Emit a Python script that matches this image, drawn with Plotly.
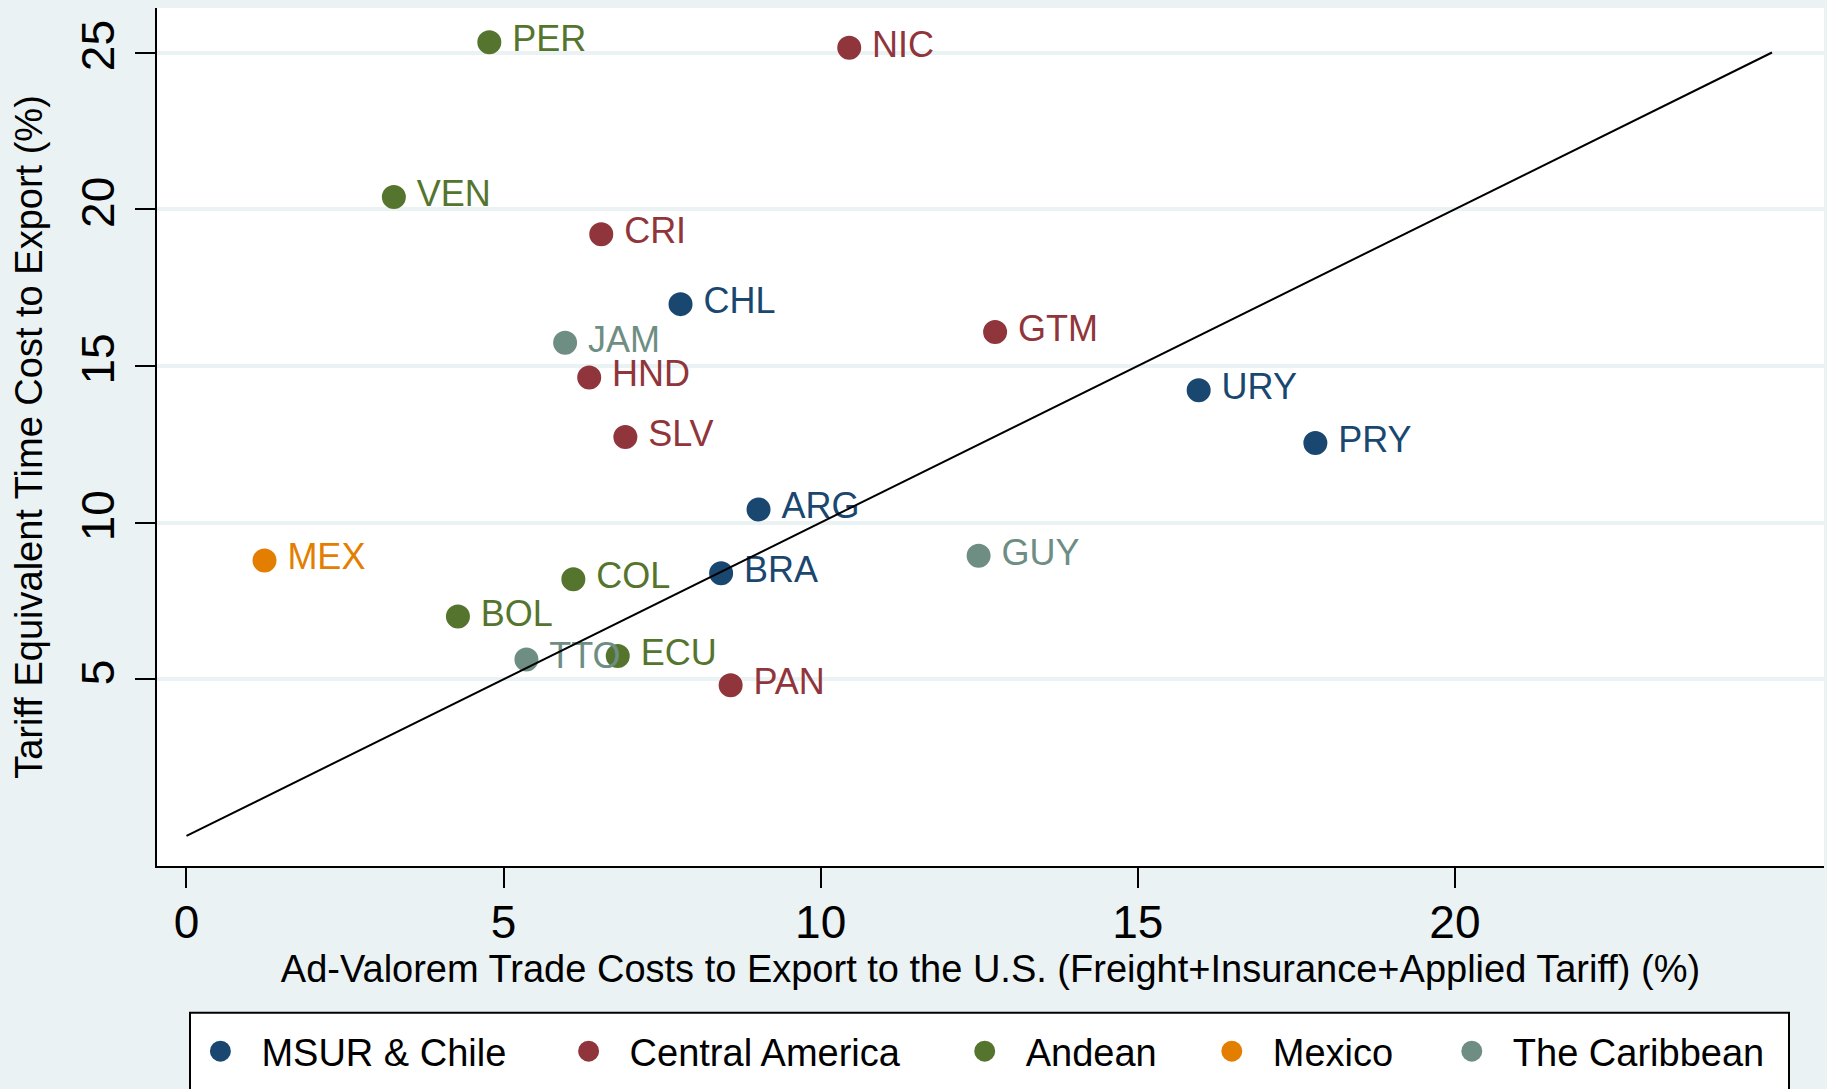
import plotly.graph_objects as go

# ---- data ----
groups = ["MSUR & Chile", "Central America", "Andean", "Mexico", "The Caribbean"]
colors = ["#1A476F", "#90353B", "#55752F", "#E37E00", "#6E8E84"]

msur_names = ["CHL", "URY", "PRY", "ARG", "BRA"]
msur_x = [7.79, 15.96, 17.80, 9.02, 8.43]
msur_y = [16.97, 14.22, 12.54, 10.42, 8.38]

cam_names = ["NIC", "CRI", "GTM", "HND", "SLV", "PAN"]
cam_x = [10.45, 6.54, 12.75, 6.35, 6.92, 8.58]
cam_y = [25.15, 19.20, 16.08, 14.63, 12.73, 4.81]

and_names = ["PER", "VEN", "COL", "BOL", "ECU"]
and_x = [4.775, 3.27, 6.10, 4.28, 6.80]
and_y = [25.33, 20.39, 8.19, 7.00, 5.74]

mex_names = ["MEX"]
mex_x = [1.23]
mex_y = [8.79]

car_names = ["JAM", "GUY", "TTO"]
car_x = [5.97, 12.49, 5.36]
car_y = [15.74, 8.94, 5.63]

line_x = [0, 25]
line_y = [0, 25]

x_ticks = [0, 5, 10, 15, 20]
y_ticks = [5, 10, 15, 20, 25]

x_title = "Ad-Valorem Trade Costs to Export to the U.S. (Freight+Insurance+Applied Tariff) (%)"
y_title = "Tariff Equivalent Time Cost to Export (%)"

series = [
    (msur_names, msur_x, msur_y),
    (cam_names, cam_x, cam_y),
    (and_names, and_x, and_y),
    (mex_names, mex_x, mex_y),
    (car_names, car_x, car_y),
]

FONT = "Liberation Sans, Arial, Helvetica, sans-serif"
BG = "#EAF2F3"

W, H = 1827, 1089
L, R, T, B = 157, 3, 8, 223
PW, PH = W - L - R, H - T - B

def px2paper_x(px):
    return (px - L) / PW

def px2paper_y(py):
    return (H - B - py) / PH

# legend entry anchor pixels (marker centres of the reference legend)
legend_marker_px = [221.4, 589.6, 985.7, 1232.8, 1472.8]
LEG_ITEMW = 72
LEG_CENTER = (LEG_ITEMW + 10) / 2 + 1
LEG_TOP = 1020

fig = go.Figure()
legend_ids = ["legend", "legend2", "legend3", "legend4", "legend5"]
for name, col, (labs, xs, ys), lid in zip(groups, colors, series, legend_ids):
    fig.add_trace(go.Scatter(
        x=xs, y=ys, text=labs, name=name, legend=lid,
        mode="markers+text", textposition="middle right",
        texttemplate="\u00a0%{text}",
        marker=dict(size=19, color=col, line=dict(width=5, color=col)),
        textfont=dict(family=FONT, size=36, color=col),
        cliponaxis=False,
    ))

fig.add_trace(go.Scatter(
    x=line_x, y=line_y, mode="lines", showlegend=False,
    line=dict(color="black", width=2), hoverinfo="skip",
))

# legend frame
fig.add_shape(type="rect", xref="paper", yref="paper",
              x0=px2paper_x(190), x1=px2paper_x(1789),
              y0=px2paper_y(1012.7), y1=px2paper_y(1110),
              fillcolor="white", line=dict(color="black", width=2), layer="below")

legends = {}
for lid, mpx in zip(legend_ids, legend_marker_px):
    legends[lid] = dict(
        orientation="h", x=px2paper_x(mpx - LEG_CENTER), xanchor="left",
        y=px2paper_y(LEG_TOP), yanchor="top",
        bgcolor="rgba(0,0,0,0)", borderwidth=0,
        font=dict(family=FONT, size=38, color="black"),
        itemwidth=LEG_ITEMW,
    )

fig.update_layout(
    width=W, height=H,
    margin=dict(l=L, r=R, t=T, b=B, autoexpand=False),
    paper_bgcolor=BG, plot_bgcolor="white",
    font=dict(family=FONT, color="black"),
    showlegend=True,
    xaxis=dict(
        range=[-0.465, 25.82], tickvals=x_ticks, ticktext=[str(v) for v in x_ticks],
        showgrid=False, zeroline=False,
        showline=True, linecolor="black", linewidth=2,
        ticks="outside", ticklen=20, tickwidth=2, tickcolor="black",
        tickfont=dict(family=FONT, size=46, color="black"),
        ticklabelstandoff=-5,
        title=dict(text=x_title, font=dict(family=FONT, size=38, color="black"), standoff=0),
    ),
    yaxis=dict(
        range=[-0.96, 26.42], tickvals=y_ticks, ticktext=[str(v) for v in y_ticks],
        showgrid=True, gridcolor=BG, gridwidth=4, zeroline=False,
        showline=True, linecolor="black", linewidth=2,
        ticks="outside", ticklen=20, tickwidth=2, tickcolor="black",
        tickangle=-90,
        tickfont=dict(family=FONT, size=46, color="black"),
        ticklabelstandoff=3,
        title=dict(text=y_title, font=dict(family=FONT, size=38, color="black"), standoff=17),
    ),
    **legends,
)

fig.write_html(
    "out.html",
    config={"displayModeBar": False},
    post_script="document.body.style.margin='0';document.body.style.background='" + BG + "';",
)
